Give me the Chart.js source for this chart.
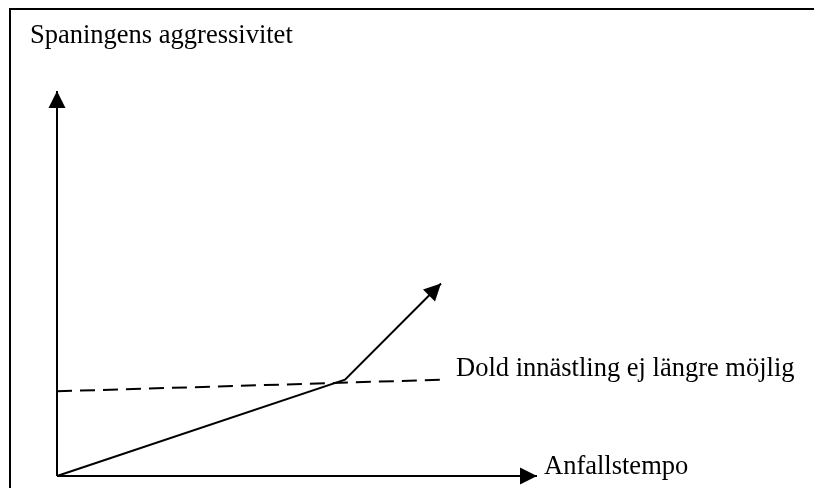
<!DOCTYPE html>
<html>
<head>
<meta charset="utf-8">
<script src="https://cdn.jsdelivr.net/npm/chart.js@4/dist/chart.umd.min.js"></script>
<style>
  html, body { margin: 0; padding: 0; background: #fff; }
  #wrap { position: absolute; left: 0; top: 0; width: 814px; height: 488px; }
  #frame { position: absolute; left: 9px; top: 8px; width: 810px; height: 490px;
           border-top: 2px solid #000; border-left: 2px solid #000; pointer-events: none; }
</style>
</head>
<body>
<div id="wrap"><canvas id="diagram"></canvas></div>
<div id="frame"></div>
<script>
// Axis texts (Swedish, as in the original)
const yAxisTitle = 'Spaningens aggressivitet';
const xAxisTitle = 'Anfallstempo';
const thresholdLabel = 'Dold innästling ej längre möjlig';

// Axes drawn as arrows, in data units (0..100)
const yAxisLine = [{ x: 0, y: 0 }, { x: 0, y: 100 }];
const xAxisLine = [{ x: 0, y: 0 }, { x: 100, y: 0 }];

// Aggressiveness rises slowly, then sharply after the threshold
const tempoCurve = [{ x: 0, y: 0 }, { x: 60, y: 25 }, { x: 80, y: 50 }];

// Threshold: concealed approach no longer possible
const thresholdLine = [{ x: 0, y: 22 }, { x: 80, y: 25 }];

const serif = "'Liberation Serif', 'Times New Roman', serif";

// Draws an arrowhead at the last point of datasets flagged with arrow: true
const arrowHeads = {
    id: 'arrowHeads',
    afterDatasetsDraw(chart) {
        const ctx = chart.ctx;
        chart.data.datasets.forEach((ds, i) => {
            if (!ds.arrow) return;
            const pts = chart.getDatasetMeta(i).data;
            const tip = pts[pts.length - 1];
            const prev = pts[pts.length - 2];
            const ang = Math.atan2(tip.y - prev.y, tip.x - prev.x);
            const len = 17, half = 8.5;
            ctx.save();
            ctx.translate(tip.x, tip.y);
            ctx.rotate(ang);
            ctx.beginPath();
            ctx.moveTo(0, 0);
            ctx.lineTo(-len, -half);
            ctx.lineTo(-len, half);
            ctx.closePath();
            ctx.fillStyle = '#000';
            ctx.fill();
            ctx.restore();
        });
    }
};

// Text labels
const labelsPlugin = {
    id: 'labelsPlugin',
    afterDraw(chart) {
        const ctx = chart.ctx;
        const put = (txt, x, y) => {
            ctx.save();
            ctx.font = '26.5px ' + serif;
            ctx.fillStyle = '#000';
            ctx.textBaseline = 'alphabetic';
            ctx.fillText(txt, x, y);
            ctx.restore();
        };
        put(yAxisTitle, 30, 43);
        put(thresholdLabel, 456, 376);
        put(xAxisTitle, 544, 474);
    }
};

const ctx = document.getElementById('diagram').getContext('2d');
new Chart(ctx, {
    type: 'scatter',
    data: {
        datasets: [
            { data: yAxisLine, arrow: true },
            { data: xAxisLine, arrow: true },
            { data: tempoCurve, arrow: true },
            { data: thresholdLine, borderDash: [15, 8] }
        ].map(d => Object.assign({
            showLine: true,
            borderColor: '#000',
            borderWidth: 2,
            pointRadius: 0,
            fill: false,
            tension: 0,
            clip: false
        }, d))
    },
    options: {
        responsive: true,
        maintainAspectRatio: false,
        animation: false,
        layout: { padding: { left: 57, right: 277, top: 91, bottom: 12 } },
        scales: {
            x: { type: 'linear', min: 0, max: 100, display: false },
            y: { type: 'linear', min: 0, max: 100, display: false }
        },
        plugins: {
            legend: { display: false },
            tooltip: { enabled: false }
        }
    },
    plugins: [arrowHeads, labelsPlugin]
});
</script>
</body>
</html>
